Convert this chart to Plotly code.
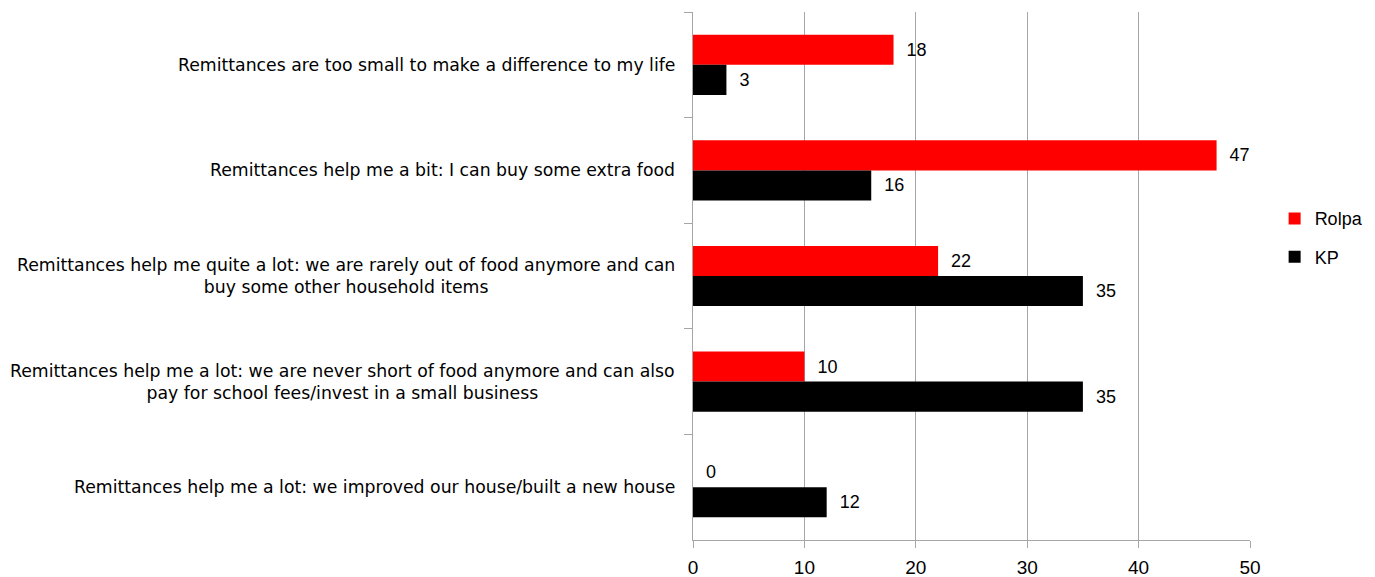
import plotly.graph_objects as go

categories = [
    "Remittances are too small to make a difference to my life",
    "Remittances help me a bit: I can buy some extra food",
    "Remittances help me quite a lot: we are rarely out of food anymore and can<br>buy some other household items",
    "Remittances help me a lot: we are never short of food anymore and can also<br>pay for school fees/invest in a small business",
    "Remittances help me a lot: we improved our house/built a new house",
]
rolpa = [18, 47, 22, 10, 0]
kp = [3, 16, 35, 35, 12]
x_ticks = [0, 10, 20, 30, 40, 50]

FONT = "Liberation Sans"
LABEL_FONT = "DejaVu Sans"
GRID = "#A6A6A6"

fig = go.Figure()
fig.add_trace(go.Bar(
    y=categories, x=rolpa, orientation="h", name="Rolpa", legendgroup="r",
    marker=dict(color="#FF0000", line=dict(width=0)),
    text=rolpa, texttemplate="  %{x}", textposition="outside",
    textfont=dict(family=FONT, size=18, color="#000000"), cliponaxis=False,
))
fig.add_trace(go.Bar(
    y=categories, x=kp, orientation="h", name="KP", legendgroup="k",
    marker=dict(color="#000000", line=dict(width=0)),
    text=kp, texttemplate="  %{x}", textposition="outside",
    textfont=dict(family=FONT, size=18, color="#000000"), cliponaxis=False,
))

for c in categories:
    fig.add_annotation(
        x=0, y=c, xref="x", yref="y", text=c, showarrow=False,
        xanchor="right", yanchor="middle", align="center", xshift=-16,
        font=dict(family=LABEL_FONT, size=17.3, color="#000000"),
    )

fig.update_layout(
    width=1375, height=577,
    margin=dict(l=693, r=125, t=12, b=37, autoexpand=False),
    paper_bgcolor="white", plot_bgcolor="white",
    barmode="group", bargap=0.43, bargroupgap=0,
    font=dict(family=FONT, size=17, color="#000000"),
    showlegend=True,
    legend=dict(xref="container", yref="container", x=0.927, y=0.588,
                xanchor="left", yanchor="middle",
                font=dict(family=FONT, size=18), itemwidth=30,
                traceorder="grouped", tracegroupgap=12),
)
fig.update_xaxes(
    range=[0, 50], tickvals=x_ticks, showgrid=True, gridcolor=GRID, gridwidth=1,
    showline=True, linecolor=GRID, linewidth=1, ticks="outside", ticklen=7,
    tickcolor=GRID, zeroline=False, tickfont=dict(family=FONT, size=19),
    ticklabelstandoff=3, fixedrange=True,
)
fig.update_yaxes(
    autorange="reversed", showticklabels=False, showline=True, linecolor=GRID,
    linewidth=1, ticks="outside", tickson="boundaries", ticklen=8, tickcolor=GRID,
    showgrid=False, zeroline=False,
)

fig.write_html("out.html")
